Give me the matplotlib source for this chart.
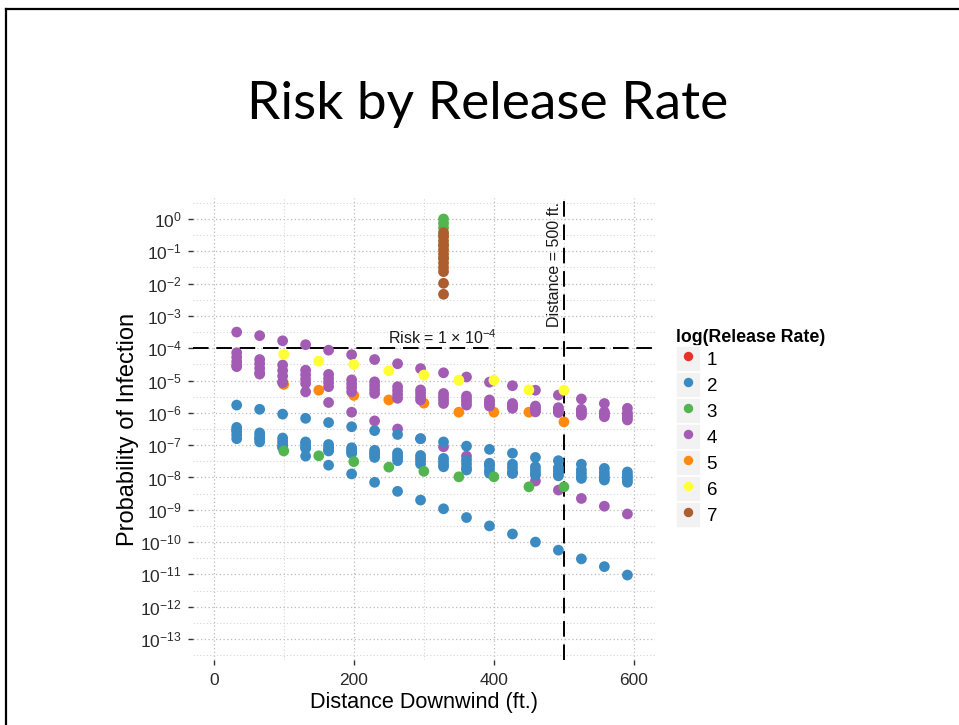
import numpy as np
import matplotlib
matplotlib.use("Agg")
import matplotlib.pyplot as plt
from matplotlib.ticker import FixedLocator, NullFormatter, LogFormatterSciNotation
from matplotlib.lines import Line2D
from matplotlib.patches import Patch
from matplotlib.legend_handler import HandlerTuple

plt.rcParams['font.family'] = ['Liberation Sans', 'DejaVu Sans']
plt.rcParams['axes.unicode_minus'] = False

# ---------------- data (log10 of probability of infection) ----------------
# distances (ft) of the 10 m grid used by release rates 2 and 4
dist_grid = [32.8, 65.6, 98.4, 131.2, 164.0, 196.9, 229.7, 262.5, 295.3,
             328.1, 360.9, 393.7, 426.5, 459.3, 492.1, 524.9, 557.7, 590.6]
# distances (ft) used by release rates 3, 5, 6
dist_50 = [100, 150, 200, 250, 300, 350, 400, 450, 500]

# release rate 2 (blue): several weather cases per distance
rate2_a = [-5.76, -5.89, -6.04, -6.17, -6.30, -6.43, -6.55, -6.67, -6.80,
           -6.90, -7.03, -7.13, -7.25, -7.38, -7.48, -7.59, -7.72, -7.83]
rate2_b = [-6.45, -6.62, -6.78, -6.90, -6.98, -7.08, -7.16, -7.24, -7.32,
           -7.41, -7.46, -7.56, -7.59, -7.67, -7.70, -7.76, -7.84, -7.92]
rate2_c = [-6.57, -6.71, -6.88, -6.97, -7.06, -7.14, -7.24, -7.32, -7.40,
           -7.50, -7.58, -7.66, -7.70, -7.77, -7.80, -7.86, -7.94, -8.00]
rate2_d = [-6.68, -6.80, -6.97, -7.05, -7.15, -7.20, -7.30, -7.40, -7.48,
           -7.60, -7.70, -7.78, -7.82, -7.87, -7.90, -7.96, -8.02, -8.08]
rate2_e = [-6.80, -6.90, -7.06, -7.10, -7.18, -7.26, -7.38, -7.48, -7.58,
           -7.67, -7.77, -7.87, -7.87, -7.93, -7.95, -8.03, -8.08, -8.15]
rate2_f = [-6.53, -6.80, -7.07, -7.34, -7.62, -7.89, -8.15, -8.43, -8.70,
           -8.97, -9.24, -9.50, -9.75, -10.00, -10.25, -10.52, -10.76, -11.02]

# release rate 4 (purple)
rate4_a = [-3.50, -3.61, -3.77, -3.89, -4.06, -4.20, -4.35, -4.48, -4.63,
           -4.76, -4.89, -5.05, -5.16, -5.30, -5.45, -5.57, -5.71, -5.86]
rate4_b = [-4.14, -4.35, -4.52, -4.68, -4.81, -4.98, -5.04, -5.19, -5.29,
           -5.40, -5.48, -5.60, -5.71, -5.79, -5.84, -5.89, -5.97, -6.00]
rate4_c = [-4.28, -4.48, -4.69, -4.82, -4.94, -5.10, -5.16, -5.31, -5.39,
           -5.50, -5.57, -5.66, -5.76, -5.85, -5.90, -5.95, -6.02, -6.08]
rate4_d = [-4.42, -4.62, -4.86, -4.96, -5.06, -5.22, -5.28, -5.43, -5.50,
           -5.60, -5.66, -5.73, -5.81, -5.91, -5.95, -6.01, -6.07, -6.15]
rate4_e = [-4.57, -4.76, -5.04, -5.09, -5.19, -5.35, -5.40, -5.55, -5.60,
           -5.71, -5.76, -5.79, -5.86, -5.97, -5.99, -6.07, -6.12, -6.22]
rate4_f = [-4.53, -4.80, -5.07, -5.35, -5.68, -5.98, -6.25, -6.50, -6.80,
           -7.05, -7.34, -7.60, -7.87, -8.11, -8.39, -8.65, -8.89, -9.13]

# release rate 3 (green), 5 (orange), 6 (yellow)
rate3 = [-7.18, -7.33, -7.51, -7.68, -7.81, -7.98, -7.98, -8.29, -8.29]
rate5 = [-5.12, -5.30, -5.46, -5.60, -5.70, -5.98, -5.98, -5.98, -6.28]
rate6 = [-4.19, -4.40, -4.50, -4.70, -4.83, -4.99, -4.99, -5.29, -5.30]

# column of very high risks at 328 ft (rates 3 and 7)
dist_col = 328.1
rate3_col = [0.0, -0.13, -0.27, -0.50, -0.80, -1.20]
rate7_col = [-0.42, -0.55, -0.68, -0.82, -0.95, -1.08, -1.22, -1.36,
             -1.50, -1.63, -1.99, -2.33]

rate_labels = ['1', '2', '3', '4', '5', '6', '7']
rate_colors = ['#E8312B', '#3B8BC2', '#52B550', '#A35CB3',
               '#FF8A0F', '#FFFF33', '#AE5E2E']

risk_limit = 1e-4
dist_limit = 500

# ---------------- assemble points ----------------
pts = {k: ([], []) for k in rate_labels}
for curve in [rate2_a, rate2_b, rate2_c, rate2_d, rate2_e, rate2_f]:
    pts['2'][0].extend(dist_grid); pts['2'][1].extend(curve)
for curve in [rate4_a, rate4_b, rate4_c, rate4_d, rate4_e, rate4_f]:
    pts['4'][0].extend(dist_grid); pts['4'][1].extend(curve)
pts['3'][0].extend(dist_50); pts['3'][1].extend(rate3)
pts['3'][0].extend([dist_col] * len(rate3_col)); pts['3'][1].extend(rate3_col)
pts['5'][0].extend(dist_50); pts['5'][1].extend(rate5)
pts['6'][0].extend(dist_50); pts['6'][1].extend(rate6)
pts['7'][0].extend([dist_col] * len(rate7_col)); pts['7'][1].extend(rate7_col)

# ---------------- figure ----------------
W, H = 959, 725
fig = plt.figure(figsize=(W / 100, H / 100), dpi=100)
fig.patch.set_facecolor('white')

# slide border
fig.add_artist(Line2D([6 / W, 6 / W], [0, 1 - 9 / H], color='black', lw=1.6,
                      transform=fig.transFigure))
fig.add_artist(Line2D([6 / W, 1], [1 - 9 / H, 1 - 9 / H], color='black', lw=1.6,
                      transform=fig.transFigure))

fig.text(0.508, 1 - 104 / H, 'Risk by Release Rate', family='Lato',
         fontsize=38.3, ha='center', va='center', color='black')

L, R, T, B = 192.7, 655, 198, 660
ax = fig.add_axes([L / W, 1 - B / H, (R - L) / W, (B - T) / H])
ax.set_facecolor('white')

draw_order = ['1', '5', '4', '2', '3', '6', '7']
for k in draw_order:
    c = rate_colors[rate_labels.index(k)]
    xs, ys = pts[k]
    ax.scatter(xs, [10 ** v for v in ys], s=60, color=c, edgecolors='none',
               zorder=3)

ax.set_yscale('log')
ax.set_xlim(-30, 630)
ax.set_ylim(10 ** -13.65, 10 ** 0.65)

ax.xaxis.set_major_locator(FixedLocator([0, 200, 400, 600]))
ax.xaxis.set_minor_locator(FixedLocator([100, 300, 500]))
ax.yaxis.set_major_locator(FixedLocator([10.0 ** e for e in range(-13, 1)]))
ax.yaxis.set_minor_locator(FixedLocator([10.0 ** (e + 0.5) for e in range(-14, 1)]))
ax.yaxis.set_major_formatter(LogFormatterSciNotation())
ax.yaxis.set_minor_formatter(NullFormatter())
ax.xaxis.set_minor_formatter(NullFormatter())

for s in ax.spines.values():
    s.set_visible(False)

ax.tick_params(which='major', length=3.8, width=1.0, color='#333333',
               labelsize=12.5, labelcolor='#2A2A2A', pad=4)
ax.tick_params(axis='x', which='major', pad=5.5)
ax.tick_params(which='minor', length=0)
ax.grid(which='major', ls=(0, (1, 2)), color='#BBBBBB', lw=0.9, zorder=0)
ax.grid(which='minor', ls=(0, (1, 2)), color='#D5D5D5', lw=0.8, zorder=0)
ax.set_axisbelow(True)

ax.axhline(risk_limit, color='black', lw=1.4, ls=(0, (8, 4)), zorder=2)
ax.axvline(dist_limit, color='black', lw=1.4, ls=(0, (8, 4)), zorder=2)

ax.text(327, 10 ** -3.68, 'Risk = 1 × 10$^{\\mathdefault{-4}}$', fontsize=11.5,
        ha='center', va='center', color='#1A1A1A')
ax.text(486.5, 10 ** -1.42, 'Distance = 500 ft.', fontsize=11.5, rotation=90,
        ha='center', va='center', color='#1A1A1A')

ax.set_xlabel('Distance Downwind (ft.)', fontsize=15.6, labelpad=3,
              color='black')
ax.set_ylabel('Probability of Infection', fontsize=17, color='black')
ax.yaxis.set_label_coords((139 - L) / (R - L), 0.5)

# legend
handles = []
for lab, c in zip(rate_labels, rate_colors):
    handles.append((Patch(facecolor='#F2F2F2', edgecolor='white', lw=1.2),
                    Line2D([], [], marker='o', ls='', color=c, markersize=6.8,
                           markeredgewidth=0)))
leg = fig.legend(handles, rate_labels, title='log(Release Rate)',
                 loc='upper left', bbox_to_anchor=(676 / W, 1 - 329 / H),
                 frameon=False, fontsize=13.5, borderpad=0, borderaxespad=0,
                 handler_map={tuple: HandlerTuple(ndivide=1, pad=0)},
                 handlelength=1.33, handleheight=1.76, labelspacing=0.0,
                 handletextpad=0.3, alignment='left',
                 title_fontproperties={'weight': 'bold', 'size': 12.8})

fig.savefig('out.png', dpi=100)
